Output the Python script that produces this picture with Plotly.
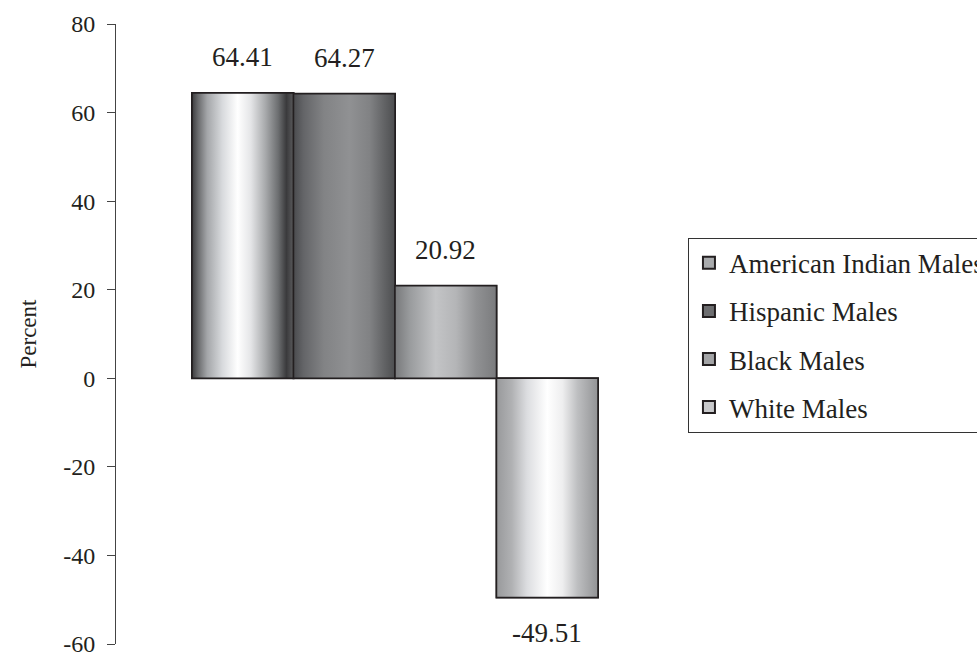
import plotly.graph_objects as go

# Percent change by group
series = ["American Indian Males", "Hispanic Males", "Black Males", "White Males"]
values = [64.41, 64.27, 20.92, -49.51]
positions = [0, 1, 2, 3]
y_ticks = [-60, -40, -20, 0, 20, 40, 60, 80]

# Horizontal metallic shading for each bar face
shades = [
    [[0, "#3c3c3e"], [0.06, "#6a6b6d"], [0.15, "#a4a6a9"], [0.3, "#d8dadd"],
     [0.45, "#ffffff"], [0.58, "#e4e5e7"], [0.72, "#a9abad"], [0.85, "#6c6e70"],
     [0.93, "#3a3a3c"], [1, "#5a5a5c"]],
    [[0, "#4a4b4e"], [0.1, "#646568"], [0.3, "#828385"], [0.55, "#909193"],
     [0.75, "#818284"], [0.9, "#616264"], [1, "#4d4e50"]],
    [[0, "#78797b"], [0.15, "#9a9c9e"], [0.4, "#c3c4c6"], [0.6, "#b4b5b7"],
     [0.8, "#909193"], [1, "#7a7b7d"]],
    [[0, "#98999b"], [0.15, "#b0b1b3"], [0.3, "#dcdde0"], [0.5, "#ffffff"],
     [0.65, "#eeeeef"], [0.8, "#bdbec0"], [1, "#929395"]],
]
swatch = ["#a9abad", "#6d6e70", "#a3a4a6", "#c8c9cb"]

edge = "#231f20"
ink = "#231f20"
serif = "Liberation Serif"

fig = go.Figure()
for i, (name, v, pos) in enumerate(zip(series, values, positions)):
    fig.add_trace(go.Bar(
        x=[pos], y=[v], width=1, name=name,
        marker=dict(color=swatch[i], line=dict(color=edge, width=2)),
        legendgroup=name, hoverinfo="skip",
    ))
    left, right = pos - 0.5, pos + 0.5
    fig.add_trace(go.Scatter(
        x=[left, right, right, left, left], y=[0, 0, v, v, 0],
        mode="lines", fill="toself",
        fillgradient=dict(type="horizontal", colorscale=shades[i]),
        line=dict(color=edge, width=1.5),
        legendgroup=name, showlegend=False, hoverinfo="skip",
    ))
    fig.add_annotation(
        x=pos, y=v, text=f"{v:.2f}", showarrow=False,
        yanchor="middle", yshift=36 if v >= 0 else -35,
        font=dict(family=serif, size=27, color=ink),
    )

fig.update_layout(
    width=977, height=660,
    margin=dict(l=116, r=303, t=24, b=16, autoexpand=False),
    paper_bgcolor="white", plot_bgcolor="white",
    barmode="overlay",
    font=dict(family=serif, color=ink),
    showlegend=True,
    legend=dict(
        x=1.025, xanchor="left", y=0.498, yanchor="middle",
        bordercolor="#333333", borderwidth=1, bgcolor="white",
        font=dict(family=serif, size=27, color=ink),
        tracegroupgap=10, itemwidth=30,
    ),
)
fig.update_xaxes(range=[-1.249, 4.249], visible=False, fixedrange=True)
fig.update_yaxes(
    range=[-60, 80], tickvals=y_ticks, ticktext=[str(t) for t in y_ticks],
    showline=True, linecolor="#444444", linewidth=1,
    ticks="outside", ticklen=8, tickcolor="#444444", tickwidth=1,
    ticklabelstandoff=7,
    showgrid=False, zeroline=False,
    tickfont=dict(family=serif, size=24, color=ink),
    title=dict(text="Percent", font=dict(family=serif, size=23, color=ink), standoff=20),
)

fig.write_html("out.html")
